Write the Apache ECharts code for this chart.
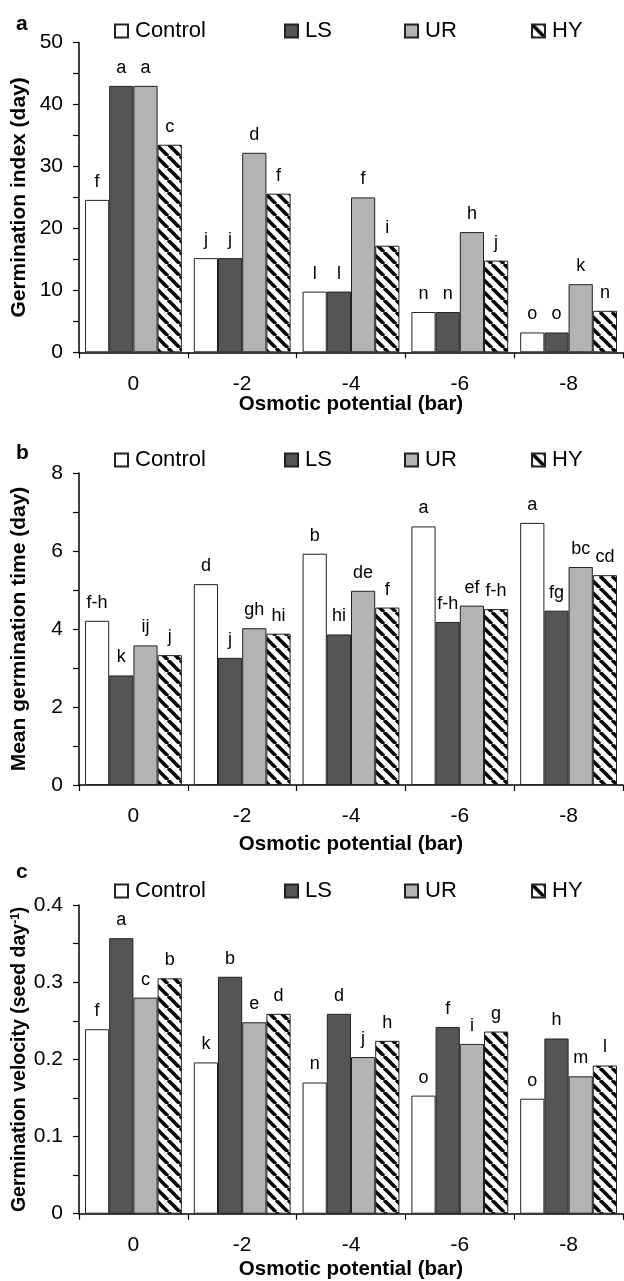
<!DOCTYPE html>
<html><head><meta charset="utf-8">
<script src="https://cdn.jsdelivr.net/npm/echarts@6/dist/echarts.min.js"></script>
<style>html,body{margin:0;padding:0;background:#fff}#c{width:624px;height:1281px}</style>
</head><body><div id="c"></div>
<script>
// ---- data ----
const categories = ['0', '-2', '-4', '-6', '-8'];
const treatments = ['Control', 'LS', 'UR', 'HY'];

// (a) Germination index (day)
const giControl = [24.6, 15.2, 9.8, 6.5, 3.2];
const giLS      = [43.0, 15.2, 9.8, 6.5, 3.2];
const giUR      = [43.0, 32.2, 25.0, 19.4, 11.0];
const giHY      = [33.5, 25.6, 17.2, 14.8, 6.7];
const giControlLbl = ['f', 'j', 'l', 'n', 'o'];
const giLSLbl      = ['a', 'j', 'l', 'n', 'o'];
const giURLbl      = ['a', 'd', 'f', 'h', 'k'];
const giHYLbl      = ['c', 'f', 'i', 'j', 'n'];

// (b) Mean germination time (day)
const mgtControl = [4.21, 5.15, 5.93, 6.63, 6.72];
const mgtLS      = [2.81, 3.26, 3.86, 4.18, 4.47];
const mgtUR      = [3.58, 4.02, 4.98, 4.60, 5.59];
const mgtHY      = [3.33, 3.88, 4.55, 4.51, 5.38];
const mgtControlLbl = ['f-h', 'd', 'b', 'a', 'a'];
const mgtLSLbl      = ['k', 'j', 'hi', 'f-h', 'fg'];
const mgtURLbl      = ['ij', 'gh', 'de', 'ef', 'bc'];
const mgtHYLbl      = ['j', 'hi', 'f', 'f-h', 'cd'];

// (c) Germination velocity (seed day-1)
const gvControl = [0.239, 0.196, 0.170, 0.153, 0.149];
const gvLS      = [0.357, 0.307, 0.259, 0.242, 0.227];
const gvUR      = [0.280, 0.248, 0.203, 0.220, 0.178];
const gvHY      = [0.305, 0.259, 0.224, 0.236, 0.192];
const gvControlLbl = ['f', 'k', 'n', 'o', 'o'];
const gvLSLbl      = ['a', 'b', 'd', 'f', 'h'];
const gvURLbl      = ['c', 'e', 'j', 'i', 'm'];
const gvHYLbl      = ['b', 'd', 'h', 'g', 'l'];

const yTitles = ['Germination index (day)', 'Mean germination time (day)', '{b|Germination velocity (seed day}{sup|-1}{b|)}'];
const xTitle = 'Osmotic potential (bar)';
const panelLetters = ['a', 'b', 'c'];
const yMax = [50, 8, 0.4];
const yInterval = [5, 1, 0.05];
const yLabelStep = [10, 2, 0.1];

const panels = [
  [giControl, giLS, giUR, giHY],
  [mgtControl, mgtLS, mgtUR, mgtHY],
  [gvControl, gvLS, gvUR, gvHY]
];
const panelLabels = [
  [giControlLbl, giLSLbl, giURLbl, giHYLbl],
  [mgtControlLbl, mgtLSLbl, mgtURLbl, mgtHYLbl],
  [gvControlLbl, gvLSLbl, gvURLbl, gvHYLbl]
];

// ---- styles / layout ----
const FONT = '"Liberation Sans", Arial, sans-serif';
const grids = [
  { left: 79, width: 544, top: 42.5, height: 309.8, outerBoundsMode: 'none', containLabel: false },
  { left: 79, width: 544, top: 473, height: 312, outerBoundsMode: 'none', containLabel: false },
  { left: 79, width: 544, top: 905, height: 308.7, outerBoundsMode: 'none', containLabel: false }
];
const legendTops = [20, 449, 880];
const legendLefts = [114, 284, 404, 531];
const letterTops = [14, 443, 862];
const xNameGaps = [42, 49, 45];
const yNameSizes = [21, 21, 19.5];
const yNameGaps = [49, 49, 49];

function hatch() {
  const s = 12;
  const c = document.createElement('canvas');
  c.width = s; c.height = s;
  const g = c.getContext('2d');
  g.fillStyle = '#fff'; g.fillRect(0, 0, s, s);
  g.strokeStyle = '#000'; g.lineWidth = 3.6;
  for (const o of [-s, 0, s]) {
    g.beginPath(); g.moveTo(o, 0); g.lineTo(o + s, s); g.stroke();
  }
  return { image: c, repeat: 'repeat' };
}
const fills = ['#ffffff', '#555555', '#b3b3b3', hatch()];

const option = {
  animation: false,
  backgroundColor: '#fff',
  textStyle: { fontFamily: FONT },
  grid: grids,
  legend: [],
  xAxis: [], yAxis: [], series: [],
  graphic: panelLetters.map((t, i) => ({
    type: 'text', left: 16, top: letterTops[i],
    style: { text: t, font: 'bold 21px ' + FONT, fill: '#000' }
  }))
};

for (let p = 0; p < 3; p++) {
  treatments.forEach((name, k) => {
    option.legend.push({
      data: [name], left: legendLefts[k], top: legendTops[p], padding: 0,
      icon: 'rect', itemWidth: 13, itemHeight: 13, selectedMode: false,
      textStyle: { fontSize: 22, color: '#000', fontFamily: FONT, padding: [0, 0, 0, 2] }
    });
  });
  option.xAxis.push({
    type: 'category', gridIndex: p, data: categories,
    name: xTitle, nameLocation: 'middle', nameGap: xNameGaps[p], nameMoveOverlap: false,
    nameTextStyle: { fontSize: 20.5, fontWeight: 'bold', color: '#000', fontFamily: FONT },
    axisLine: { lineStyle: { color: '#000', width: 1.5 } },
    axisTick: { show: true, length: 6, lineStyle: { color: '#000', width: 1.2 } },
    axisLabel: { fontSize: 21, color: '#000', margin: 21, fontFamily: FONT },
    splitLine: { show: false }
  });
  const step = yLabelStep[p];
  const fs = yNameSizes[p];
  option.yAxis.push({
    type: 'value', gridIndex: p, min: 0, max: yMax[p], interval: yInterval[p],
    name: yTitles[p], nameLocation: 'middle', nameGap: yNameGaps[p], nameMoveOverlap: false,
    nameTextStyle: {
      fontSize: fs, fontWeight: 'bold', color: '#000', fontFamily: FONT,
      rich: {
        b: { fontSize: fs, fontWeight: 'bold', color: '#000', fontFamily: FONT },
        sup: { fontSize: 12, fontWeight: 'bold', color: '#000', fontFamily: FONT, verticalAlign: 'top', padding: [0, 0, 8, 0] }
      }
    },
    axisLine: { show: true, lineStyle: { color: '#000', width: 1.5 } },
    axisTick: { show: true, length: 6, lineStyle: { color: '#000', width: 1.2 } },
    axisLabel: {
      fontSize: 21, color: '#000', margin: 16, fontFamily: FONT,
      formatter: v => {
        const r = v / step;
        return Math.abs(r - Math.round(r)) < 1e-6 ? String(+v.toFixed(2)) : '';
      }
    },
    splitLine: { show: false }
  });
  treatments.forEach((name, k) => {
    const lbls = panelLabels[p][k];
    option.series.push({
      type: 'bar', name: name, xAxisIndex: p, yAxisIndex: p,
      data: panels[p][k],
      barGap: '0%', barCategoryGap: '11%',
      itemStyle: { color: fills[k], borderColor: '#222', borderWidth: 1 },
      label: {
        show: true, position: 'top', distance: 9, fontSize: 18, color: '#000', fontFamily: FONT,
        formatter: q => lbls[q.dataIndex]
      }
    });
  });
}

const chart = echarts.init(document.getElementById('c'), null, { renderer: 'canvas' });
chart.setOption(option);
</script></body></html>
